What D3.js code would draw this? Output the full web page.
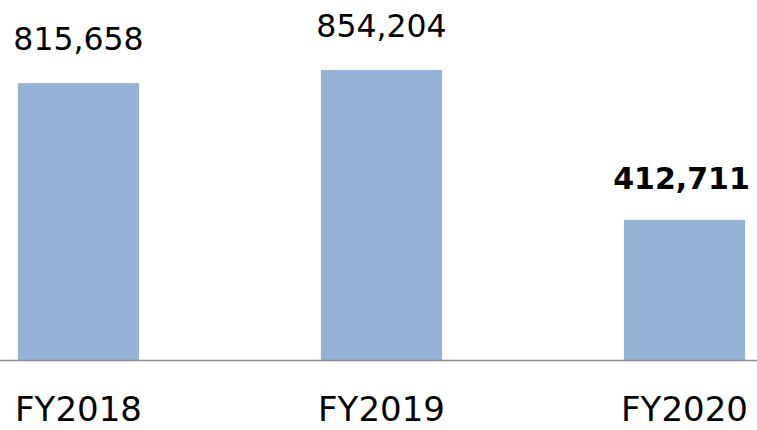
<!DOCTYPE html>
<html><head><meta charset="utf-8">
<script src="https://cdn.jsdelivr.net/npm/d3@7"></script>
<style>html,body{margin:0;padding:0;background:#fff;}svg{display:block;}</style>
</head><body>
<svg id="c" width="757" height="430"></svg>
<script>
const categories = ["FY2018", "FY2019", "FY2020"];
const values = [815658, 854204, 412711];
const boldFlags = [false, false, true];

const svg = d3.select("#c");
const W = 757, H = 430, baseY = 360;
const x = d3.scaleBand().domain(categories).range([-73, 836]).paddingInner(0.6).paddingOuter(0.3);
const y = d3.scaleLinear().domain([0, 1000000]).range([baseY, baseY - 339.5]);
const fmt = d3.format(",");

svg.selectAll("rect.bar").data(categories).join("rect")
  .attr("class", "bar")
  .attr("x", d => x(d))
  .attr("width", x.bandwidth())
  .attr("y", (d, i) => y(values[i]))
  .attr("height", (d, i) => baseY - y(values[i]))
  .attr("fill", "#95B3D7");

svg.append("line").attr("x1", 0).attr("x2", W).attr("y1", baseY + 0.5).attr("y2", baseY + 0.5)
  .attr("stroke", "#8c8c8c").attr("stroke-width", 1.5);

svg.selectAll("text.val").data(categories).join("text")
  .attr("class", "val")
  .attr("x", d => x(d) + x.bandwidth() / 2 + (d === "FY2020" ? -3 : 0))
  .attr("y", (d, i) => y(values[i]) - (boldFlags[i] ? 31 : 33))
  .attr("text-anchor", "middle")
  .attr("font-family", "DejaVu Sans, Verdana, sans-serif")
  .attr("font-size", (d, i) => boldFlags[i] ? 30 : 31.5)
  .attr("font-weight", (d, i) => boldFlags[i] ? "bold" : "normal")
  .attr("fill", "#000")
  .text((d, i) => fmt(values[i]));

svg.selectAll("text.cat").data(categories).join("text")
  .attr("class", "cat")
  .attr("x", d => x(d) + x.bandwidth() / 2)
  .attr("y", 421)
  .attr("text-anchor", "middle")
  .attr("font-family", "DejaVu Sans, Verdana, sans-serif")
  .attr("font-size", 34)
  .attr("fill", "#000")
  .text(d => d);
</script>
</body></html>
